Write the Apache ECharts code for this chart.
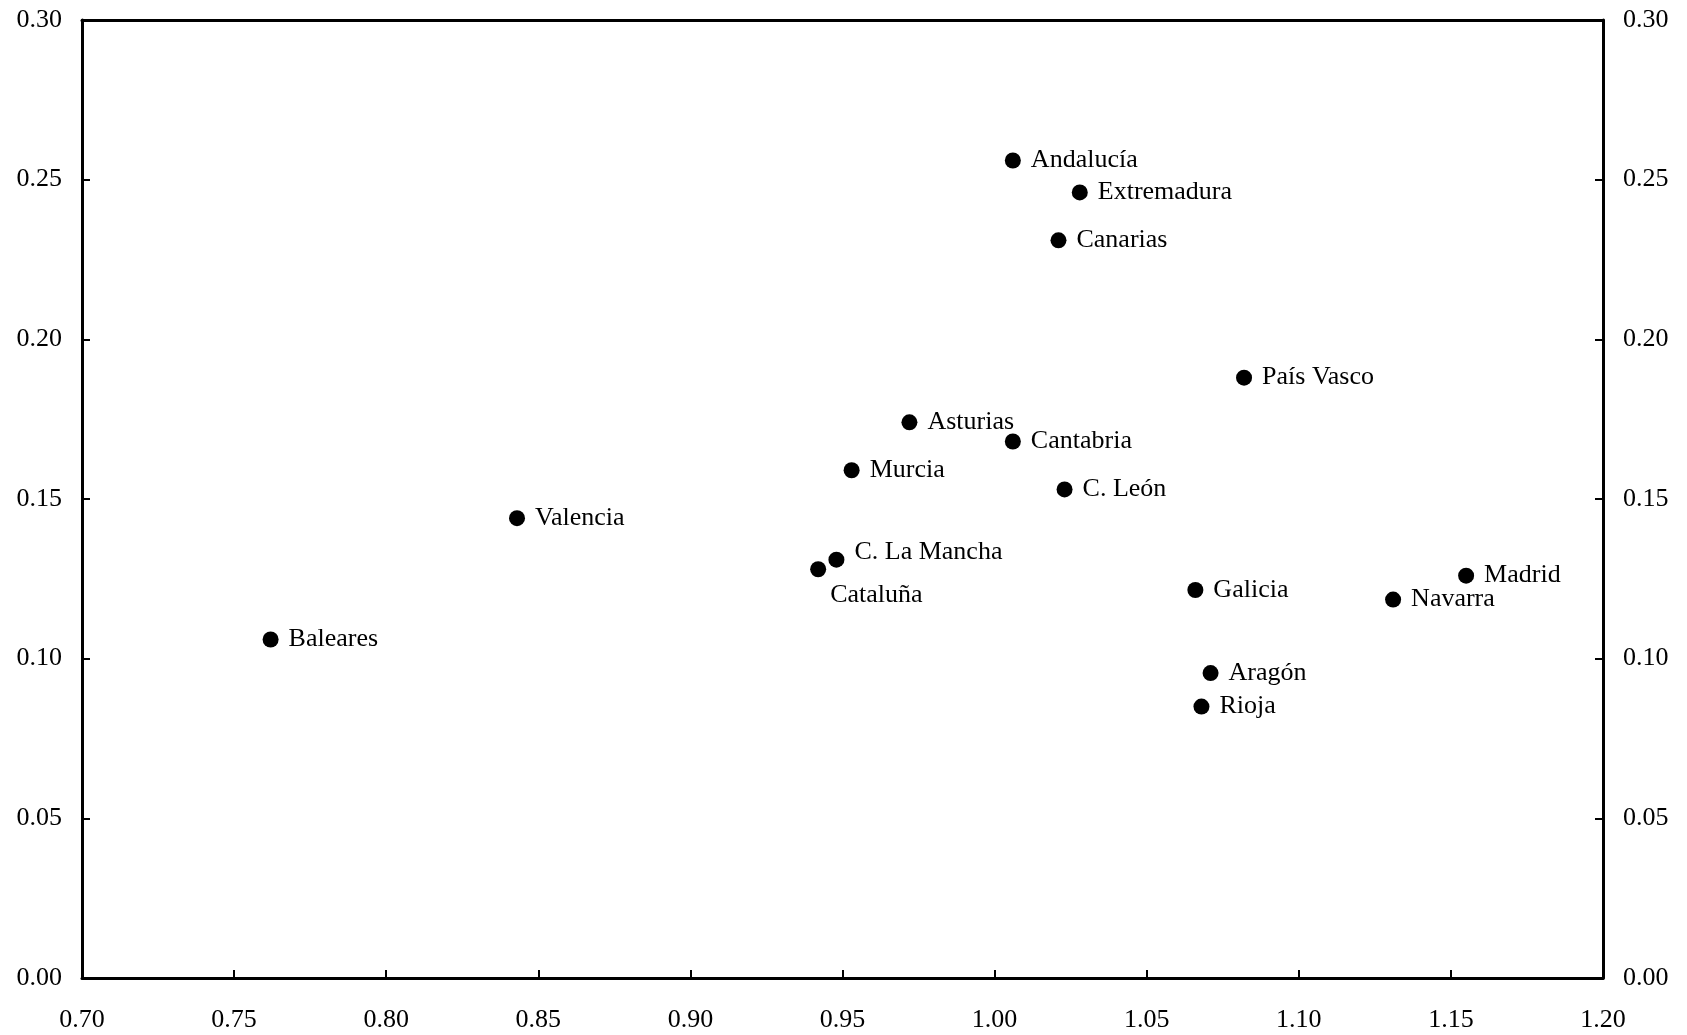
<!DOCTYPE html>
<html>
<head>
<meta charset="utf-8">
<title>Regiones</title>
<script src="https://cdn.jsdelivr.net/npm/echarts@6/dist/echarts.min.js"></script>
<style>
  html, body { margin: 0; padding: 0; background: #ffffff; }
  #chart { width: 1687px; height: 1035px; }
</style>
</head>
<body>
<div id="chart"></div>
<script>
// Regional data: horizontal and vertical coordinates for each community
const regions = ['Andalucía', 'Extremadura', 'Canarias', 'País Vasco', 'Asturias', 'Cantabria',
  'Murcia', 'C. León', 'Valencia', 'C. La Mancha', 'Cataluña', 'Galicia', 'Madrid',
  'Navarra', 'Baleares', 'Aragón', 'Rioja'];
const xValues = [1.006, 1.028, 1.021, 1.082, 0.972, 1.006,
  0.953, 1.023, 0.843, 0.948, 0.942, 1.066, 1.155,
  1.131, 0.762, 1.071, 1.068];
const yValues = [0.256, 0.246, 0.231, 0.188, 0.174, 0.168,
  0.159, 0.153, 0.144, 0.131, 0.128, 0.1215, 0.126,
  0.1185, 0.106, 0.0955, 0.085];

// Axis ranges and tick spacing
const xTicks = { min: 0.70, max: 1.20, step: 0.05 };
const yTicks = { min: 0.00, max: 0.30, step: 0.05 };

// Labels that sit away from the default right-hand spot
const labelOffsets = {
  'Cataluña': [-6, 26],
  'C. La Mancha': [0, -8]
};

const FONT = '"Liberation Serif", "Times New Roman", serif';
const fmt = v => v.toFixed(2);

const axisLineStyle = { show: true, onZero: false, lineStyle: { color: '#000', width: 3 } };
const tickStyle = { show: true, inside: true, length: 8, lineStyle: { color: '#000', width: 2 } };
const labelText = { color: '#000', fontFamily: FONT, fontSize: 26, formatter: fmt };

const points = regions.map((name, i) => {
  const item = { name: name, value: [xValues[i], yValues[i]] };
  if (labelOffsets[name]) item.label = { offset: labelOffsets[name] };
  return item;
});

const chart = echarts.init(document.getElementById('chart'), null, { renderer: 'canvas' });
chart.setOption({
  backgroundColor: '#ffffff',
  animation: false,
  grid: { left: 82, right: 84, top: 20, bottom: 57, containLabel: false },
  xAxis: [
    {
      type: 'value', position: 'bottom',
      min: xTicks.min, max: xTicks.max, interval: xTicks.step,
      axisLine: axisLineStyle, axisTick: tickStyle,
      axisLabel: Object.assign({ margin: 29 }, labelText),
      splitLine: { show: false }
    },
    {
      type: 'value', position: 'top',
      min: xTicks.min, max: xTicks.max, interval: xTicks.step,
      axisLine: axisLineStyle, axisTick: { show: false },
      axisLabel: { show: false }, splitLine: { show: false }
    }
  ],
  yAxis: [
    {
      type: 'value', position: 'left',
      min: yTicks.min, max: yTicks.max, interval: yTicks.step,
      axisLine: axisLineStyle, axisTick: tickStyle,
      axisLabel: Object.assign({ margin: 20 }, labelText),
      splitLine: { show: false }
    },
    {
      type: 'value', position: 'right',
      min: yTicks.min, max: yTicks.max, interval: yTicks.step,
      axisLine: axisLineStyle, axisTick: tickStyle,
      axisLabel: Object.assign({ margin: 20 }, labelText),
      splitLine: { show: false }
    }
  ],
  series: [{
    type: 'scatter',
    xAxisIndex: 0,
    yAxisIndex: 0,
    symbol: 'circle',
    symbolSize: 16,
    itemStyle: { color: '#000', opacity: 1 },
    label: {
      show: true,
      position: 'right',
      distance: 10,
      formatter: p => p.name,
      color: '#000',
      fontFamily: FONT,
      fontSize: 26
    },
    emphasis: { disabled: true },
    data: points
  }]
});
</script>
</body>
</html>
